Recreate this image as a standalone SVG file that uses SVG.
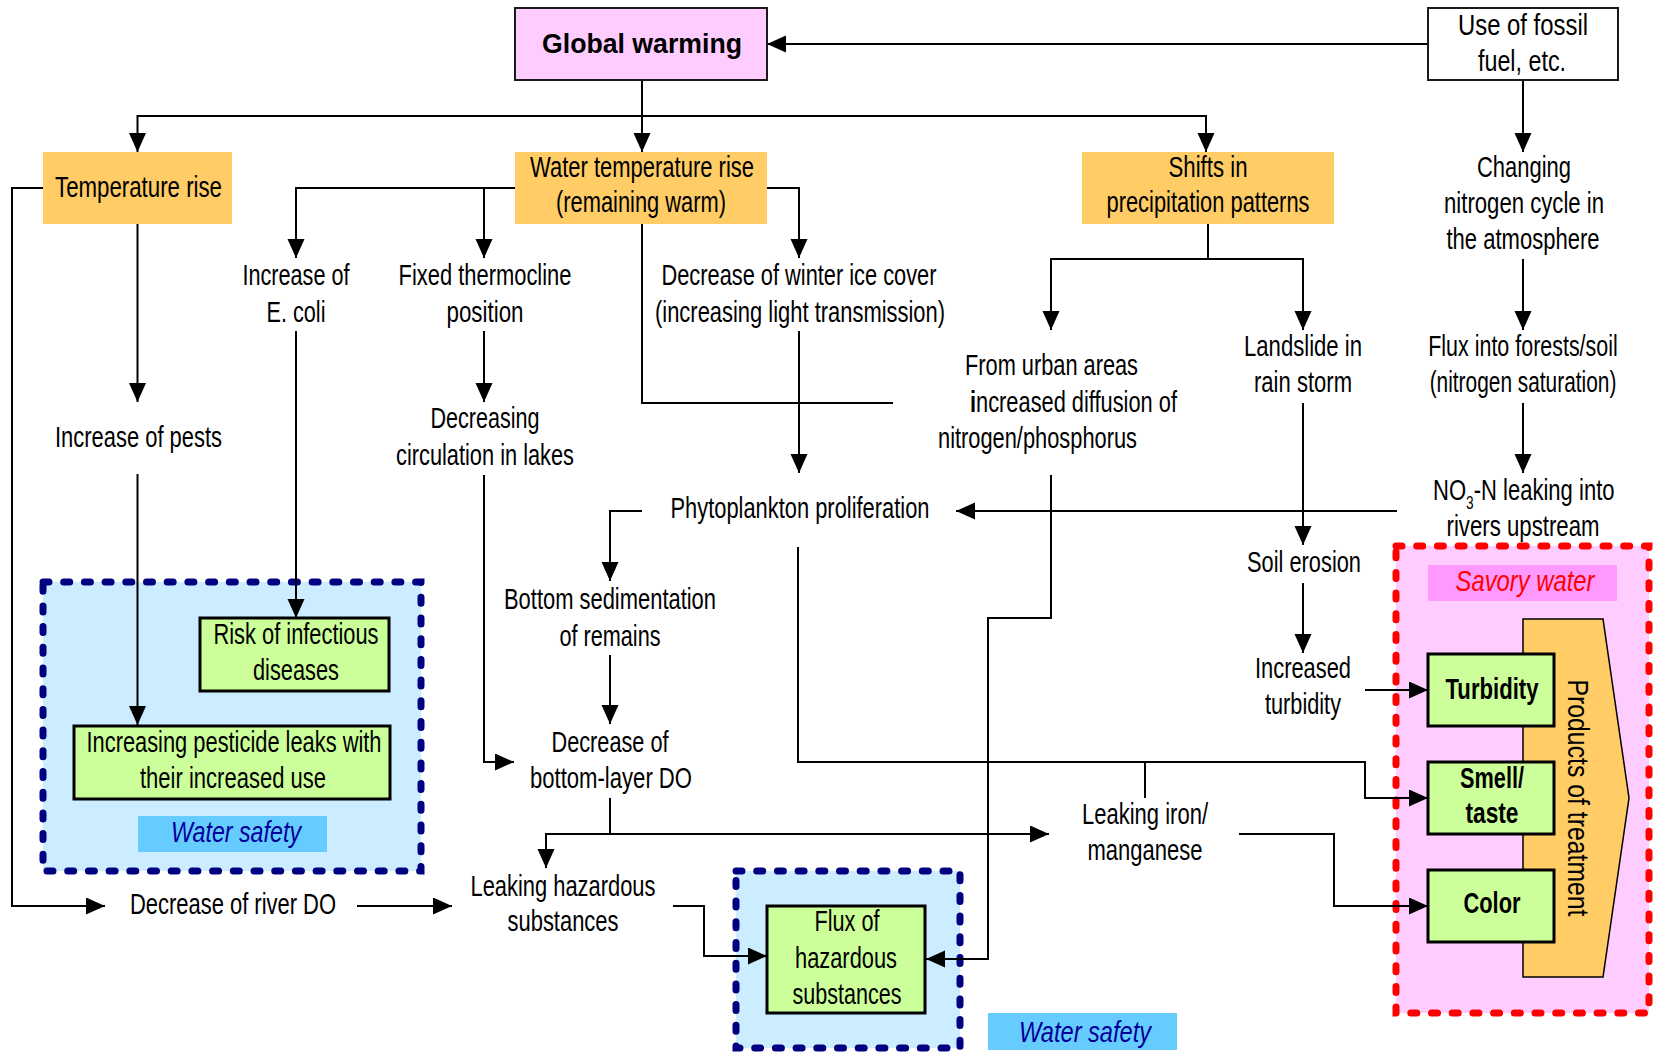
<svg xmlns="http://www.w3.org/2000/svg" width="1656" height="1052" viewBox="0 0 1656 1052">
<defs>
<style>
.t{font-family:"Liberation Sans Narrow","Liberation Sans",Arial,sans-serif;font-size:29px;fill:#000;text-anchor:middle}
.b{font-weight:bold}
.i{font-style:italic}
.ln{fill:none;stroke:#000;stroke-width:2}
.ar{marker-end:url(#ah)}
.orange{fill:#FFCC66}
.green{fill:#CCFF99;stroke:#000;stroke-width:3}
.navyzone{fill:#CCECFF;stroke:#000080;stroke-width:7;stroke-dasharray:6 14.7;stroke-linecap:round}
.redzone{fill:#FFCCFF;stroke:#FF0000;stroke-width:7;stroke-dasharray:6 14.7;stroke-linecap:round}
</style>
<marker id="ah" markerUnits="userSpaceOnUse" markerWidth="20" markerHeight="18" refX="19" refY="8.5" orient="auto"><path d="M0,0 L19,8.5 L0,17 z" fill="#000"/></marker>
</defs>
<rect width="1656" height="1052" fill="#fff"/>

<!-- zones -->
<g id="zone-water-safety-1">
<rect class="navyzone" x="43" y="582" width="378" height="289"/>
<rect x="138" y="816" width="189" height="36" fill="#66CCFF"/>
<text class="t i" x="236" y="842" style="fill:#000099" textLength="130" lengthAdjust="spacingAndGlyphs">Water safety</text>
</g>
<g id="zone-water-safety-2">
<rect class="navyzone" x="736" y="871" width="224" height="177"/>
<rect x="988" y="1013" width="189" height="37" fill="#66CCFF"/>
<text class="t i" x="1085" y="1042" style="fill:#000099" textLength="132" lengthAdjust="spacingAndGlyphs">Water safety</text>
</g>
<g id="zone-savory-water">
<rect class="redzone" x="1396" y="546" width="253" height="467"/>
<rect x="1428" y="565" width="189" height="36" fill="#FF99FF"/>
<text class="t i" x="1525" y="591" style="fill:#FF0000" textLength="139" lengthAdjust="spacingAndGlyphs">Savory water</text>
</g>

<!-- connectors -->
<g id="connectors">
<path class="ln ar" d="M1428,44 H767"/>
<path class="ln ar" d="M642,80 V152"/>
<path class="ln ar" d="M642,116 H137.5 V152"/>
<path class="ln ar" d="M642,116 H1206 V152"/>
<path class="ln ar" d="M1523,80 V152"/>
<path class="ln ar" d="M137.5,224 V402"/>
<path class="ln ar" d="M43,188 H12 V906 H105"/>
<path class="ln ar" d="M515,188 H296 V258"/>
<path class="ln ar" d="M484,188 V258"/>
<path class="ln ar" d="M767,188 H799 V258"/>
<path class="ln" d="M642,224 V403 H893"/>
<path class="ln ar" d="M1208,224 V259 H1051 V330"/>
<path class="ln ar" d="M1208,259 H1303 V330"/>
<path class="ln ar" d="M1523,259 V330"/>
<path class="ln ar" d="M296,331 V618"/>
<path class="ln ar" d="M484,331 V402"/>
<path class="ln ar" d="M799,331 V473"/>
<path class="ln ar" d="M1303,403 V545"/>
<path class="ln ar" d="M1523,403 V473"/>
<path class="ln ar" d="M1397,511 H956"/>
<path class="ln ar" d="M137.5,474 V725"/>
<path class="ln ar" d="M484,475 V762 H514"/>
<path class="ln ar" d="M642,511 H610 V581"/>
<path class="ln ar" d="M610,655 V724"/>
<path class="ln ar" d="M1051,475 V618 H988 V959 H926"/>
<path class="ln ar" d="M1303,583 V653"/>
<path class="ln ar" d="M1365,690 H1428"/>
<path class="ln ar" d="M798,547 V762 H1365 V798 H1428"/>
<path class="ln" d="M1145,798 V762"/>
<path class="ln ar" d="M610,798 V834 H546 V868"/>
<path class="ln ar" d="M610,834 H1049"/>
<path class="ln ar" d="M1239,834 H1334 V906 H1428"/>
<path class="ln ar" d="M357,906 H452"/>
<path class="ln ar" d="M673,906 H704 V956 H767"/>
</g>

<!-- nodes -->
<g id="global-warming">
<rect x="515" y="8" width="252" height="72" fill="#FFCCFF" stroke="#1a1a1a" stroke-width="2"/>
<text class="t b" x="642" y="53" style="font-family:'Liberation Sans',Arial,sans-serif;font-size:28px" textLength="200" lengthAdjust="spacingAndGlyphs">Global warming</text>
</g>
<g id="use-of-fossil-fuel">
<rect x="1428" y="8" width="190" height="72" fill="#fff" stroke="#1a1a1a" stroke-width="2"/>
<text class="t" x="1523" y="35" textLength="130" lengthAdjust="spacingAndGlyphs">Use of fossil</text>
<text class="t" x="1522" y="71" textLength="88" lengthAdjust="spacingAndGlyphs">fuel, etc.</text>
</g>
<g id="temperature-rise">
<rect class="orange" x="43" y="152" width="189" height="72"/>
<text class="t" x="138.5" y="197" textLength="167" lengthAdjust="spacingAndGlyphs">Temperature rise</text>
</g>
<g id="water-temperature-rise">
<rect class="orange" x="515" y="152" width="252" height="72"/>
<text class="t" x="642" y="177" textLength="224" lengthAdjust="spacingAndGlyphs">Water temperature rise</text>
<text class="t" x="641" y="212" textLength="170" lengthAdjust="spacingAndGlyphs">(remaining warm)</text>
</g>
<g id="shifts-in-precipitation">
<rect class="orange" x="1082" y="152" width="252" height="72"/>
<text class="t" x="1208" y="177" textLength="79" lengthAdjust="spacingAndGlyphs">Shifts in</text>
<text class="t" x="1208" y="212" textLength="203" lengthAdjust="spacingAndGlyphs">precipitation patterns</text>
</g>
<g id="changing-nitrogen-cycle">
<text class="t" x="1524" y="177" textLength="94" lengthAdjust="spacingAndGlyphs">Changing</text>
<text class="t" x="1524" y="213" textLength="160" lengthAdjust="spacingAndGlyphs">nitrogen cycle in</text>
<text class="t" x="1523" y="249" textLength="153" lengthAdjust="spacingAndGlyphs">the atmosphere</text>
</g>
<g id="increase-of-e-coli">
<text class="t" x="296" y="285" textLength="107" lengthAdjust="spacingAndGlyphs">Increase of</text>
<text class="t" x="296" y="322" textLength="59" lengthAdjust="spacingAndGlyphs">E. coli</text>
</g>
<g id="fixed-thermocline">
<text class="t" x="485" y="285" textLength="173" lengthAdjust="spacingAndGlyphs">Fixed thermocline</text>
<text class="t" x="485" y="322" textLength="77" lengthAdjust="spacingAndGlyphs">position</text>
</g>
<g id="decrease-of-winter-ice">
<text class="t" x="799" y="285" textLength="275" lengthAdjust="spacingAndGlyphs">Decrease of winter ice cover</text>
<text class="t" x="800" y="322" textLength="290" lengthAdjust="spacingAndGlyphs">(increasing light transmission)</text>
</g>
<g id="from-urban-areas">
<text class="t" x="1051.5" y="375" textLength="173" lengthAdjust="spacingAndGlyphs">From urban areas</text>
<text class="t" x="1073.5" y="412" textLength="207" lengthAdjust="spacingAndGlyphs"><tspan font-weight="bold">i</tspan>ncreased diffusion of</text>
<text class="t" x="1037.5" y="448" textLength="199" lengthAdjust="spacingAndGlyphs">nitrogen/phosphorus</text>
</g>
<g id="landslide">
<text class="t" x="1303" y="356" textLength="118" lengthAdjust="spacingAndGlyphs">Landslide in</text>
<text class="t" x="1303" y="392" textLength="98" lengthAdjust="spacingAndGlyphs">rain storm</text>
</g>
<g id="flux-into-forests">
<text class="t" transform="translate(1523,356) scale(0.74,1)" x="0" y="0">Flux into forests/soil</text>
<text class="t" transform="translate(1523,392) scale(0.72,1)" x="0" y="0">(nitrogen saturation)</text>
</g>
<g id="increase-of-pests">
<text class="t" x="138.5" y="447" textLength="167" lengthAdjust="spacingAndGlyphs">Increase of pests</text>
</g>
<g id="decreasing-circulation">
<text class="t" x="485" y="428" textLength="109" lengthAdjust="spacingAndGlyphs">Decreasing</text>
<text class="t" x="485" y="465" textLength="178" lengthAdjust="spacingAndGlyphs">circulation in lakes</text>
</g>
<g id="phytoplankton-proliferation">
<text class="t" x="800" y="518" textLength="259" lengthAdjust="spacingAndGlyphs">Phytoplankton proliferation</text>
</g>
<g id="no3-leaking">
<text class="t" style="text-anchor:start" transform="translate(1433,500) scale(0.76,1)" x="0" y="0">NO<tspan dy="9" font-size="18">3</tspan><tspan dy="-9">-N leaking into</tspan></text>
<text class="t" x="1523" y="536" textLength="153" lengthAdjust="spacingAndGlyphs">rivers upstream</text>
</g>
<g id="soil-erosion">
<text class="t" x="1304" y="572" textLength="114" lengthAdjust="spacingAndGlyphs">Soil erosion</text>
</g>
<g id="increased-turbidity">
<text class="t" x="1303" y="678" textLength="96" lengthAdjust="spacingAndGlyphs">Increased</text>
<text class="t" x="1303" y="714" textLength="76" lengthAdjust="spacingAndGlyphs">turbidity</text>
</g>
<g id="bottom-sedimentation">
<text class="t" x="610" y="609" textLength="212" lengthAdjust="spacingAndGlyphs">Bottom sedimentation</text>
<text class="t" x="610" y="646" textLength="101" lengthAdjust="spacingAndGlyphs">of remains</text>
</g>
<g id="risk-of-infectious-diseases">
<rect class="green" x="200" y="618" width="189" height="73"/>
<text class="t" x="296" y="644" textLength="165" lengthAdjust="spacingAndGlyphs">Risk of infectious</text>
<text class="t" x="296" y="680" textLength="86" lengthAdjust="spacingAndGlyphs">diseases</text>
</g>
<g id="increasing-pesticide-leaks">
<rect class="green" x="74" y="726" width="316" height="73"/>
<text class="t" x="234" y="752" textLength="295" lengthAdjust="spacingAndGlyphs">Increasing pesticide leaks with</text>
<text class="t" x="233" y="788" textLength="186" lengthAdjust="spacingAndGlyphs">their increased use</text>
</g>
<g id="decrease-of-bottom-do">
<text class="t" x="610" y="752" textLength="117" lengthAdjust="spacingAndGlyphs">Decrease of</text>
<text class="t" x="611" y="788" textLength="162" lengthAdjust="spacingAndGlyphs">bottom-layer DO</text>
</g>
<g id="leaking-iron-manganese">
<text class="t" x="1145" y="824" textLength="126" lengthAdjust="spacingAndGlyphs">Leaking iron/</text>
<text class="t" x="1145" y="860" textLength="115" lengthAdjust="spacingAndGlyphs">manganese</text>
</g>
<g id="decrease-of-river-do">
<text class="t" x="233" y="914" textLength="206" lengthAdjust="spacingAndGlyphs">Decrease of river DO</text>
</g>
<g id="leaking-hazardous">
<text class="t" x="563" y="896" textLength="185" lengthAdjust="spacingAndGlyphs">Leaking hazardous</text>
<text class="t" x="563" y="931" textLength="111" lengthAdjust="spacingAndGlyphs">substances</text>
</g>
<g id="flux-of-hazardous">
<rect class="green" x="767" y="906" width="158" height="107"/>
<text class="t" x="847" y="931" textLength="65" lengthAdjust="spacingAndGlyphs">Flux of</text>
<text class="t" x="846" y="968" textLength="102" lengthAdjust="spacingAndGlyphs">hazardous</text>
<text class="t" x="847" y="1004" textLength="109" lengthAdjust="spacingAndGlyphs">substances</text>
</g>
<g id="products-of-treatment">
<path d="M1523,619 H1603 L1629,798 L1603,977 H1523 Z" fill="#FFCC66" stroke="#000" stroke-width="1.5"/>
<text class="t" transform="translate(1568,798) rotate(90)" x="0" y="0" textLength="237" lengthAdjust="spacingAndGlyphs">Products of treatment</text>
</g>
<g id="turbidity">
<rect class="green" x="1428" y="654" width="126" height="72"/>
<text class="t b" x="1492" y="699" textLength="93" lengthAdjust="spacingAndGlyphs">Turbidity</text>
</g>
<g id="smell-taste">
<rect class="green" x="1428" y="762" width="126" height="72"/>
<text class="t b" x="1492" y="788" textLength="64" lengthAdjust="spacingAndGlyphs">Smell/</text>
<text class="t b" x="1492" y="823" textLength="53" lengthAdjust="spacingAndGlyphs">taste</text>
</g>
<g id="color">
<rect class="green" x="1428" y="870" width="126" height="72"/>
<text class="t b" x="1492" y="913" textLength="57" lengthAdjust="spacingAndGlyphs">Color</text>
</g>
</svg>
